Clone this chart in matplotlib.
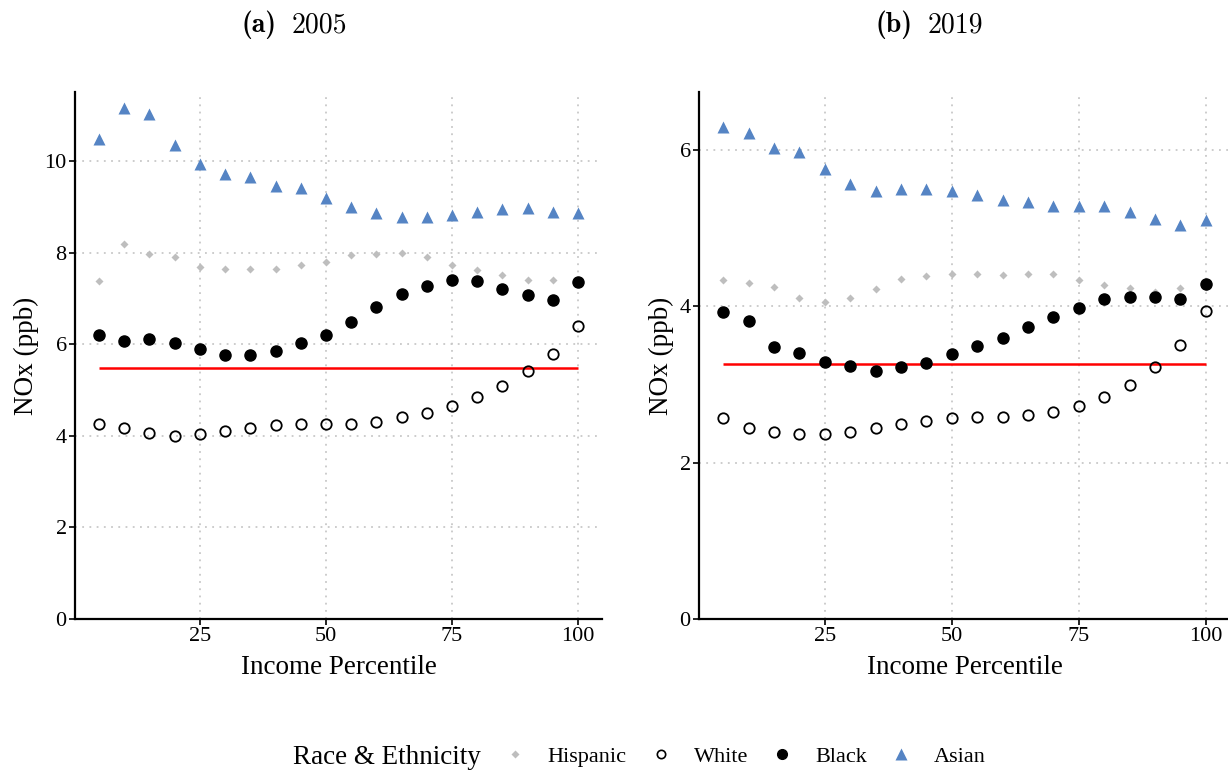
"""
plot.py — NOx exposure by income percentile and race/ethnicity, 2005 vs 2019.
"""

import matplotlib
matplotlib.use("Agg")
import matplotlib.pyplot as plt
from matplotlib.lines import Line2D

# ---- data ----
pct = [5, 10, 15, 20, 25, 30, 35, 40, 45, 50, 55, 60, 65, 70, 75, 80, 85, 90, 95, 100]

asian_2005 = [10.47, 11.15, 11.02, 10.34, 9.93, 9.71, 9.64, 9.45, 9.41, 9.19,
              9.00, 8.87, 8.78, 8.78, 8.82, 8.88, 8.95, 8.97, 8.88, 8.87]
hispanic_2005 = [7.37, 8.18, 7.97, 7.91, 7.68, 7.64, 7.64, 7.64, 7.72, 7.80,
                 7.94, 7.96, 8.00, 7.91, 7.73, 7.62, 7.50, 7.40, 7.40, 7.40]
black_2005 = [6.20, 6.07, 6.11, 6.02, 5.89, 5.76, 5.77, 5.85, 6.02, 6.21,
              6.48, 6.82, 7.09, 7.27, 7.39, 7.38, 7.21, 7.07, 6.96, 7.35]
white_2005 = [4.26, 4.16, 4.07, 4.00, 4.03, 4.11, 4.17, 4.24, 4.26, 4.25,
              4.26, 4.31, 4.40, 4.50, 4.64, 4.84, 5.08, 5.41, 5.79, 6.39]
mean_2005 = 5.48

asian_2019 = [6.29, 6.22, 6.03, 5.97, 5.76, 5.56, 5.47, 5.50, 5.50, 5.48,
              5.43, 5.36, 5.33, 5.29, 5.29, 5.28, 5.21, 5.12, 5.04, 5.10]
hispanic_2019 = [4.34, 4.30, 4.25, 4.11, 4.06, 4.11, 4.22, 4.35, 4.39, 4.41,
                 4.41, 4.40, 4.41, 4.41, 4.34, 4.27, 4.23, 4.19, 4.23, 4.25]
black_2019 = [3.93, 3.81, 3.48, 3.40, 3.29, 3.24, 3.17, 3.23, 3.28, 3.39,
              3.49, 3.59, 3.74, 3.87, 3.98, 4.10, 4.12, 4.12, 4.09, 4.28]
white_2019 = [2.57, 2.45, 2.39, 2.37, 2.37, 2.39, 2.44, 2.50, 2.54, 2.57,
              2.58, 2.59, 2.61, 2.65, 2.73, 2.84, 3.00, 3.23, 3.50, 3.94]
mean_2019 = 3.26

x_ticks = [25, 50, 75, 100]
y_ticks_2005 = [0, 2, 4, 6, 8, 10]
y_ticks_2019 = [0, 2, 4, 6]

ASIAN_COL = "#5584c4"
HISP_COL = "#bebebe"

plt.rcParams["font.family"] = "Liberation Serif"


def draw_panel(ax, hisp, white, black, asian, mean_val, y_ticks, y_top):
    ax.grid(True, linestyle=(0, (1, 3)), color="#c8c8c8", lw=1.3)
    ax.set_axisbelow(True)

    ax.hlines(mean_val, pct[0], pct[-1], color="red", lw=1.8, zorder=2)
    ax.plot(pct, hisp, "D", ms=4.5, color=HISP_COL, mec="none", zorder=3)
    ax.plot(pct, white, "o", ms=7.5, mfc="none", mec="black", mew=1.3, zorder=3)
    ax.plot(pct, black, "o", ms=8, color="black", zorder=3)
    ax.plot(pct, asian, "^", ms=8.5, color=ASIAN_COL, mec="none", zorder=3)

    ax.set_xlim(0.25, 104.75)
    ax.set_ylim(0, y_top)
    ax.set_xticks(x_ticks)
    ax.set_yticks(y_ticks)
    ax.tick_params(labelsize=16, length=4, width=1.2, color="black", pad=2)

    for side in ["top", "right"]:
        ax.spines[side].set_visible(False)
    for side in ["left", "bottom"]:
        ax.spines[side].set_linewidth(1.6)

    ax.set_xlabel("Income Percentile", fontsize=19.5, labelpad=6)
    ax.set_ylabel("NOx (ppb)", fontsize=19.5, labelpad=4)


def panel_title(fig, x_split, tag, year):
    # bold "(a)" in CM bold, year in CM roman, like a LaTeX subcaption
    y = 1 - 25 / 771
    fig.text(x_split / 1228, y, tag, fontsize=20, family="cmb10",
             ha="right", va="center")
    fig.text((x_split + 15) / 1228, y, year, fontsize=20, family="cmr10",
             ha="left", va="center")


fig = plt.figure(figsize=(12.28, 7.71), dpi=100)
ax1 = fig.add_axes([0.0611, 0.197, 0.4292, 0.6835])
ax2 = fig.add_axes([0.5692, 0.197, 0.4324, 0.6835])

draw_panel(ax1, hispanic_2005, white_2005, black_2005, asian_2005,
           mean_2005, y_ticks_2005, 11.5)
draw_panel(ax2, hispanic_2019, white_2019, black_2019, asian_2019,
           mean_2019, y_ticks_2019, 6.74)

panel_title(fig, 277, "(a)", "2005")
panel_title(fig, 913, "(b)", "2019")

# legend: title to the left of the keys, like ggplot's bottom legend
fig.text(387 / 1228, 1 - 757 / 771, "Race & Ethnicity", fontsize=19.5,
         ha="center", va="center")
handles = [
    Line2D([], [], ls="none", marker="D", ms=4, color=HISP_COL, mec="none"),
    Line2D([], [], ls="none", marker="o", ms=6, mfc="none", mec="black", mew=1.2),
    Line2D([], [], ls="none", marker="o", ms=7, color="black"),
    Line2D([], [], ls="none", marker="^", ms=8, color=ASIAN_COL, mec="none"),
]
labels = ["Hispanic", "White", "Black", "Asian"]
fig.legend(handles, labels, loc="center left", bbox_to_anchor=(504 / 1228, 1 - 757 / 771),
           ncol=4, frameon=False, fontsize=16, handlelength=1.0,
           handletextpad=0.97, columnspacing=1.04, borderpad=0, borderaxespad=0)

plt.savefig("out.png", dpi=100)
plt.close()
